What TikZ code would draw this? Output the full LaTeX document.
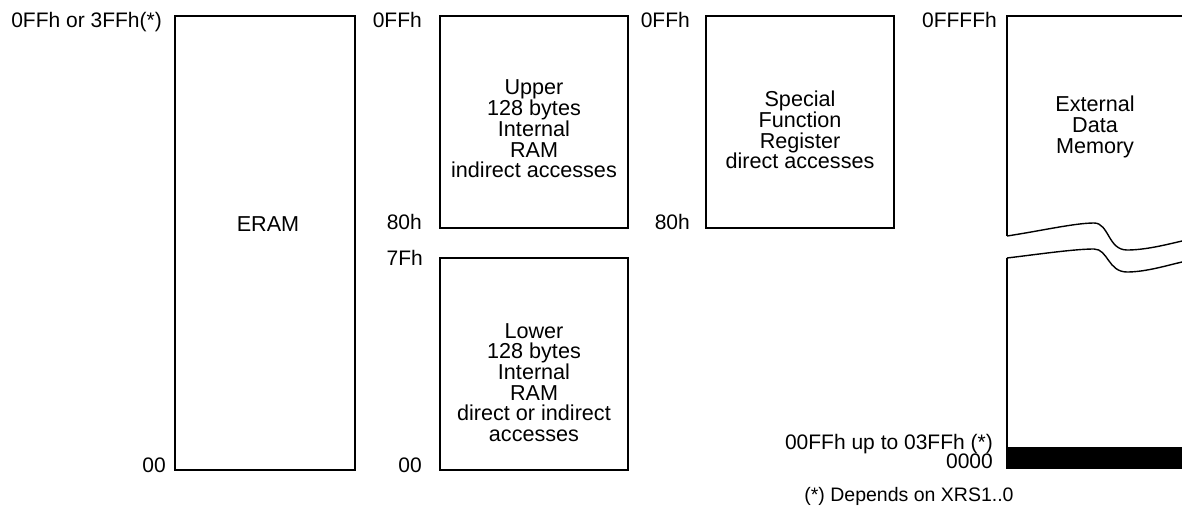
\documentclass[tikz,border=0pt]{standalone}
\usepackage{fontspec}
\setmainfont{Liberation Sans}
\newfontfamily\dvfont{DejaVu Sans}
\begin{document}
\begin{tikzpicture}[x=1pt,y=-1pt,
  membox/.style={draw, line width=1.8pt, inner sep=0pt, minimum width=188pt, minimum height=212pt},
  lbl/.style={font=\fontsize{21}{21}\selectfont, inner sep=0pt, anchor=base east},
  body/.style={font=\fontsize{21.6}{20.7}\selectfont, inner sep=0pt, align=center},
  edge/.style={line width=2pt},
  curve/.style={line width=1.4pt}]
\useasboundingbox (0,0) rectangle (1182,516);
% boxes
\node[membox, minimum width=180pt, minimum height=454pt] (eram) at (265,243) {};
\node[membox] (upper) at (534,122) {};
\node[membox] (lower) at (534,364) {};
\node[membox] (sfr) at (800,122) {};
% texts in boxes
\node[body] (teram) at (268,224.5) {ERAM};
\node[body] (tupper) at (534,129) {Upper\\128 bytes\\Internal\\RAM\\indirect accesses};
\node[body] (tlower) at (534,382.5) {Lower\\128 bytes\\Internal\\RAM\\direct or indirect\\accesses};
\node[body] (tsfr) at (800,130) {Special\\Function\\Register\\direct accesses};
\node[body] (text) at (1095,127) {External\\Data\\Memory};
% address labels
\node[lbl] (a1) at (162,28) {0FFh or 3FFh(*)};
\node[lbl] (a2) at (166,472) {00};
\node[lbl] (a3) at (422,28) {0FFh};
\node[lbl] (a4) at (422,229) {80h};
\node[lbl] (a5) at (423,265) {7Fh};
\node[lbl] (a6) at (422,472) {00};
\node[lbl] (a7) at (690,28) {0FFh};
\node[lbl] (a8) at (690,229) {80h};
\node[lbl] (a9) at (997,28) {0FFFFh};
\node[lbl] (a10) at (993,449) {00FFh up to 03FFh (*)};
\node[lbl] (a11) at (993,468) {0000};
\node[lbl, anchor=base, font=\fontsize{19.5}{19.5}\selectfont] (note) at (909,501) {(*) Depends on XRS1..0};
% external memory
\coordinate (eu) at (1007,236);
\coordinate (el) at (1007,258);
\draw[edge] (eu) -- (1007,16) -- (1182,16);
\draw[edge] (el) -- (1007,469);
\draw[curve] (eu) .. controls (1040,231) and (1075,223) .. (1094,223)
  .. controls (1109,223) and (1108,250) .. (1127,250)
  .. controls (1145,250) and (1165,245) .. (1182,241);
\draw[curve] (el) .. controls (1040,254) and (1075,249) .. (1094,249)
  .. controls (1108,249) and (1108,272) .. (1127,272)
  .. controls (1145,272) and (1165,266) .. (1182,262);
\fill (1007,447) rectangle (1182,469);
\end{tikzpicture}
\end{document}
